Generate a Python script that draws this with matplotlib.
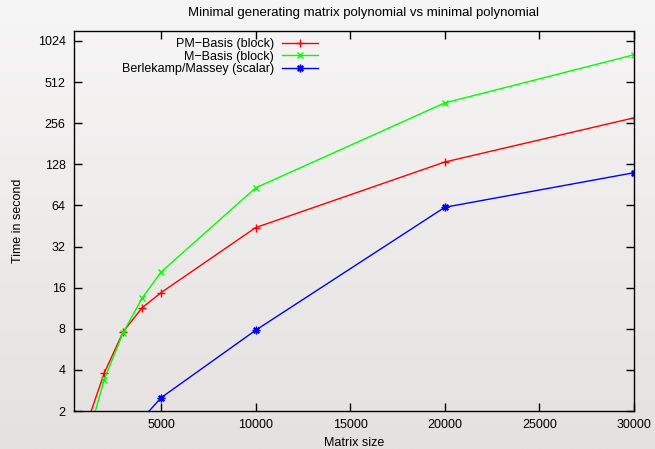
import numpy as np
import matplotlib
matplotlib.use('Agg')
import matplotlib.pyplot as plt
from matplotlib.ticker import FixedLocator, FixedFormatter, NullLocator

plt.rcParams['font.family'] = ['Liberation Sans', 'DejaVu Sans']

# data
sizes = [1000, 2000, 3000, 4000, 5000, 10000, 20000, 30000]
pm_basis = [1.5, 3.8, 7.6, 11.4, 14.7, 44, 133, 280]
m_basis = [1.1, 3.4, 7.5, 13.4, 20.8, 86, 360, 810]
bm_sizes = [4000, 5000, 10000, 20000, 30000]
bm_scalar = [1.75, 2.5, 7.8, 62, 111]

y_ticks = [2, 4, 8, 16, 32, 64, 128, 256, 512, 1024]
x_ticks = [5000, 10000, 15000, 20000, 25000, 30000]

fig = plt.figure(figsize=(6.55, 4.49), dpi=100)

# light grey vertical gradient behind everything
bg = fig.add_axes([0, 0, 1, 1], zorder=-10)
grad = np.linspace(0, 1, 256).reshape(-1, 1)
bg.imshow(grad, aspect='auto', cmap=matplotlib.colors.LinearSegmentedColormap.from_list(
    'bgg', ['#f7f6f6', '#e4e1df']), extent=(0, 1, 0, 1))
bg.set_axis_off()

ax = fig.add_axes([74 / 655, 38 / 449, 560 / 655, 380 / 449])
ax.set_facecolor('none')

lw = 1.0
ax.plot(sizes, pm_basis, color='#ff0000', lw=lw, marker='+', ms=5.5, mew=1.0,
        label='PM\u2212Basis (block)')
ax.plot(sizes, m_basis, color='#00ff00', lw=lw, marker='x', ms=4.5, mew=1.0,
        label='M\u2212Basis (block)')
ax.plot(bm_sizes, bm_scalar, color='#0000ff', lw=lw, marker=(8, 2, 0), ms=5.5, mew=1.0,
        label='Berlekamp/Massey (scalar)')

ax.set_yscale('log', base=2)
ax.set_ylim(2, 1210)
ax.set_xlim(400, 30000)
ax.yaxis.set_major_locator(FixedLocator(y_ticks))
ax.yaxis.set_major_formatter(FixedFormatter([str(v) for v in y_ticks]))
ax.yaxis.set_minor_locator(NullLocator())
ax.xaxis.set_major_locator(FixedLocator(x_ticks))
ax.xaxis.set_major_formatter(FixedFormatter([str(v) for v in x_ticks]))

ax.tick_params(axis='both', which='major', direction='in', length=6, width=1.0,
               labelsize=9, bottom=True, top=True, left=True, right=True, pad=6)
for s in ax.spines.values():
    s.set_linewidth(1.0)

ax.set_xlabel('Matrix size', fontsize=9, labelpad=4)
ax.set_ylabel('Time in second', fontsize=9, labelpad=10)
fig.text(363 / 655, 1 - 13 / 449, 'Minimal generating matrix polynomial vs minimal polynomial',
         ha='center', va='center', fontsize=9.5)

leg = ax.legend(loc='upper right', bbox_to_anchor=((318 - 74) / 560, (411 - 38) / 380),
                frameon=False, fontsize=9, borderpad=0, borderaxespad=0,
                markerfirst=False, handlelength=2.9, handletextpad=0.6, labelspacing=0.05)
for t in leg.get_texts():
    t.set_ha('right')
leg._legend_box.align = 'right'

fig.savefig('out.png', dpi=100)
